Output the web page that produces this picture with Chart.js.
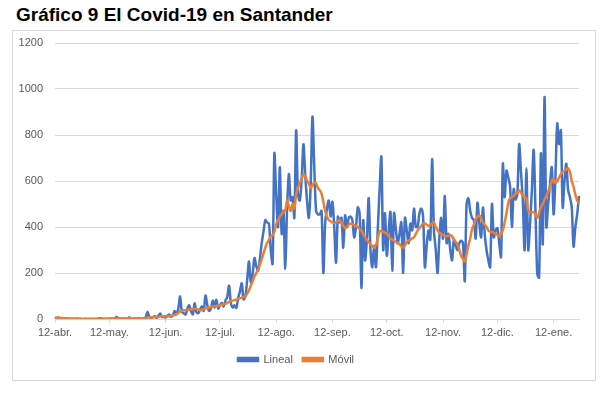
<!DOCTYPE html>
<html>
<head>
<meta charset="utf-8">
<script src="https://cdn.jsdelivr.net/npm/chart.js@4/dist/chart.umd.min.js"></script>
<style>
  body { margin: 0; background: #fff; width: 602px; height: 399px; position: relative; overflow: hidden; }
  #titulo { position: absolute; left: 16px; top: 4px; font: bold 19px "Liberation Sans", Arial, sans-serif; color: #000; white-space: nowrap; }
  #caja { position: absolute; left: 12px; top: 30px; width: 584px; height: 351px; border: 1px solid #d9d9d9; box-sizing: border-box; }
  #caja canvas { position: absolute; left: 0; top: 0; }
</style>
</head>
<body>
<div id="titulo">Gráfico 9 El Covid-19 en Santander</div>
<div id="caja"><canvas id="grafico" width="582" height="349"></canvas></div>
<script>
// casos diarios desde el 12 de abril
const lineal = [
  8, 2, 6, 1, 4, 2, 3, 1, 2, 0,
  1, 0, 2, 0, 1, 0, 0, 1, 0, 0,
  0, 1, 0, 0, 2, 3, 1, 0, 0, 1,
  0, 2, 1, 3, 9, 2, 1, 0, 1, 0,
  2, 7, 1, 0, 2, 1, 3, 0, 1, 4,
  6, 31, 10, 4, 8, 12, 5, 14, 24, 8,
  10, 6, 14, 20, 10, 16, 35, 22, 45, 98,
  30, 25, 20, 45, 60, 35, 20, 68, 30, 25,
  40, 55, 35, 102, 60, 35, 45, 80, 50, 84,
  45, 60, 70, 55, 80, 95, 145, 70, 50, 60,
  48, 90, 120, 155, 85, 100, 170, 250, 160, 195,
  265, 230, 210, 260, 330, 380, 430, 420, 415, 300,
  240, 720, 540, 400, 660, 370, 470, 220, 480, 630,
  515, 530, 440, 820, 545, 515, 600, 760, 630, 515,
  440, 580, 880, 660, 470, 455, 455, 470, 200, 415,
  480, 515, 445, 510, 400, 245, 445, 420, 440, 310,
  450, 400, 440, 445, 430, 355, 400, 485, 460, 135,
  430, 255, 345, 525, 300, 225, 320, 225, 385, 560,
  705, 300, 460, 275, 380, 465, 210, 460, 390, 330,
  370, 420, 200, 440, 385, 330, 415, 385, 480, 400,
  400, 460, 480, 445, 225, 320, 385, 345, 695, 385,
  300, 200, 355, 440, 350, 535, 330, 370, 300, 255,
  345, 320, 300, 330, 340, 330, 165, 500, 525, 470,
  440, 430, 350, 505, 420, 355, 485, 370, 300, 255,
  225, 500, 355, 385, 395, 330, 270, 675, 530, 645,
  615, 575, 400, 565, 520, 545, 760, 640, 515, 300,
  655, 300, 415, 560, 735, 470, 195, 180, 720, 325,
  965, 400, 500, 585, 660, 455, 620, 850, 760, 820,
  485, 600, 675, 560, 530, 485, 315, 400, 455, 535
];

// media movil
const movil = [
  6, 5, 5, 4, 4, 3, 3, 2, 2, 1,
  1, 1, 1, 1, 1, 0, 0, 0, 0, 0,
  0, 0, 0, 0, 0, 1, 1, 1, 1, 1,
  1, 1, 1, 2, 2, 2, 2, 2, 2, 2,
  2, 2, 2, 2, 2, 2, 2, 2, 2, 2,
  3, 6, 6, 7, 8, 9, 10, 10, 12, 12,
  11, 12, 12, 12, 14, 16, 18, 20, 26, 33,
  35, 38, 38, 40, 40, 42, 43, 45, 43, 42,
  38, 40, 43, 46, 48, 50, 52, 54, 55, 57,
  58, 60, 62, 64, 66, 70, 74, 78, 80, 82,
  84, 87, 90, 93, 95, 100, 110, 125, 145, 165,
  185, 200, 215, 235, 260, 285, 310, 330, 345, 360,
  365, 380, 410, 430, 445, 455, 470, 470, 515, 490,
  470, 500, 480, 540, 570, 590, 610, 630, 620, 600,
  590, 570, 580, 595, 590, 570, 560, 545, 510, 470,
  445, 430, 425, 420, 418, 420, 425, 430, 420, 405,
  395, 400, 410, 415, 412, 408, 405, 400, 390, 385,
  370, 355, 345, 335, 325, 318, 310, 320, 350, 380,
  385, 380, 375, 370, 360, 350, 345, 340, 335, 330,
  325, 315, 310, 320, 335, 340, 345, 350, 355, 370,
  385, 395, 405, 415, 415, 410, 405, 410, 415, 420,
  400, 385, 375, 370, 365, 360, 360, 362, 365, 360,
  345, 335, 325, 300, 275, 260, 250, 280, 320, 350,
  390, 410, 430, 445, 450, 440, 420, 410, 400, 385,
  380, 378, 375, 370, 365, 360, 370, 385, 420, 460,
  505, 525, 530, 535, 545, 550, 560, 550, 535, 530,
  525, 470, 465, 465, 465, 455, 440, 460, 485, 500,
  520, 535, 555, 575, 600, 610, 590, 600, 615, 630,
  640, 645, 650, 655, 640, 600, 575, 540, 515, 500
];

const tickLabels = ['12-abr.', '12-may.', '12-jun.', '12-jul.', '12-ago.', '12-sep.', '12-oct.', '12-nov.', '12-dic.', '12-ene.'];
const meses = ['ene.', 'feb.', 'mar.', 'abr.', 'may.', 'jun.', 'jul.', 'ago.', 'sep.', 'oct.', 'nov.', 'dic.'];

// una categoria por dia, del 12-abr. al 26-ene.
const dias = [];
for (let i = 0; i < lineal.length; i++) {
  const f = new Date(Date.UTC(2020, 3, 12 + i));
  dias.push(f.getUTCDate() + '-' + meses[f.getUTCMonth()]);
}

const gris = '#595959';
const fuente = { family: '"Liberation Sans", Arial, sans-serif', size: 11 };

const ctx = document.getElementById('grafico').getContext('2d');
const chart = new Chart(ctx, {
  type: 'line',
  data: {
    labels: dias,
    datasets: [
      {
        label: 'Lineal',
        data: lineal,
        borderColor: '#4472C4',
        backgroundColor: '#4472C4',
        borderWidth: 2.5,
        pointRadius: 0,
        tension: 0.3,
        order: 2
      },
      {
        label: 'Móvil',
        data: movil,
        borderColor: '#ED7D31',
        backgroundColor: '#ED7D31',
        borderWidth: 2.5,
        pointRadius: 0,
        tension: 0.3,
        order: 1
      }
    ]
  },
  options: {
    responsive: false,
    animation: false,
    layout: { padding: { left: 0, right: 16, top: 12, bottom: 5 } },
    plugins: {
      tooltip: { enabled: false },
      legend: {
        position: 'bottom',
        labels: {
          color: gris,
          font: fuente,
          boxWidth: 20,
          boxHeight: 3,
          padding: 10,
          sort: (a, b) => a.datasetIndex - b.datasetIndex
        }
      }
    },
    scales: {
      x: {
        offset: false,
        border: { color: '#d9d9d9' },
        grid: {
          drawOnChartArea: false,
          tickLength: 4,
          color: (c) => (c.tick && tickLabels.includes(c.tick.label) ? '#d9d9d9' : 'rgba(0,0,0,0)')
        },
        ticks: {
          autoSkip: false,
          maxRotation: 0,
          minRotation: 0,
          padding: 3,
          color: gris,
          font: fuente,
          callback: function (v) {
            const lab = this.getLabelForValue(v);
            return tickLabels.includes(lab) ? lab : '';
          }
        },
        afterFit: (s) => { s.height = 25; }
      },
      y: {
        min: 0,
        max: 1200,
        border: { display: false },
        grid: { color: '#d9d9d9', drawTicks: false },
        ticks: { stepSize: 200, padding: 12, color: gris, font: fuente, callback: (v) => String(v) },
        afterFit: (s) => { s.width = 42; s.paddingTop = 0; }
      }
    }
  }
});
</script>
</body>
</html>
